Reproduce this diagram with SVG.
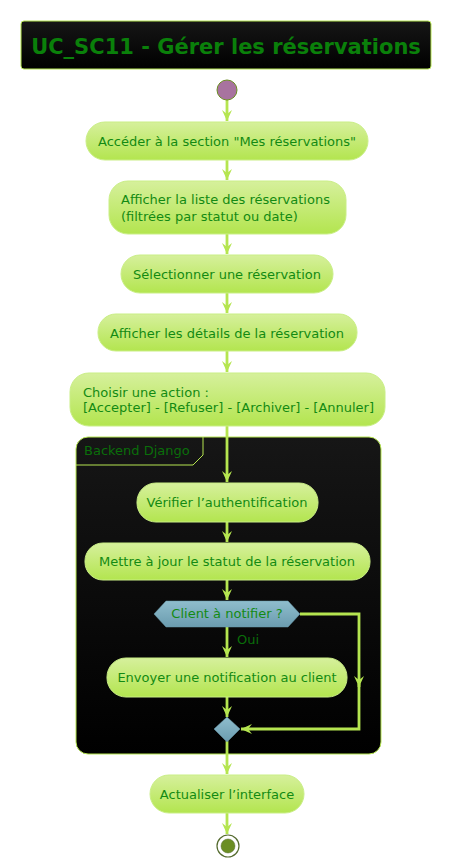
<svg xmlns="http://www.w3.org/2000/svg" width="454" height="867" viewBox="0 0 454 867">
<defs>
<linearGradient id="gNode" x1="0" y1="0" x2="0" y2="1"><stop offset="0" stop-color="#d6f09c"/><stop offset="1" stop-color="#b3e54f"/></linearGradient>
<linearGradient id="gDark" x1="0" y1="0" x2="0" y2="1"><stop offset="0" stop-color="#161616"/><stop offset="1" stop-color="#000000"/></linearGradient>
<linearGradient id="gDec" x1="0" y1="0" x2="0" y2="1"><stop offset="0" stop-color="#8fbdcd"/><stop offset="1" stop-color="#6b9caf"/></linearGradient>
<marker id="arr" viewBox="0 0 12 12" refX="11" refY="6" markerWidth="12" markerHeight="12" markerUnits="userSpaceOnUse" orient="auto">
<path d="M0,1 L11,6 L0,11 L4,6 Z" fill="#b5e550"/>
</marker>
<style>
.node{fill:url(#gNode);stroke:#c9ee85;stroke-width:1}
.t{font-family:"DejaVu Sans",Verdana,sans-serif;font-size:13px;fill:#138a13}
.c{text-anchor:middle}
.edge{fill:none;stroke:#b5e550;stroke-width:2.8}
</style>
</defs>

<g id="title">
<rect x="21" y="21" width="410" height="48" rx="3" fill="url(#gDark)" stroke="#b5e550" stroke-width="1"/>
<text x="226" y="54" text-anchor="middle" font-family="'DejaVu Sans',Verdana,sans-serif" font-size="21" font-weight="bold" fill="#0a800a">UC_SC11 - Gérer les réservations</text>
</g>

<g id="partition">
<rect x="76" y="437" width="305" height="317" rx="12" fill="url(#gDark)" stroke="#b5e550" stroke-width="1"/>
<path d="M76,465 L193,465 L203,455 L203,437" fill="none" stroke="#b5e550" stroke-width="1"/>
<text class="t" x="84" y="455" style="fill:#0a6e0a">Backend Django</text>
</g>

<g id="connectors">
<line class="edge" x1="227" y1="100" x2="227" y2="121" marker-end="url(#arr)"/>
<line class="edge" x1="227" y1="160" x2="227" y2="180" marker-end="url(#arr)"/>
<line class="edge" x1="227" y1="234" x2="227" y2="254" marker-end="url(#arr)"/>
<line class="edge" x1="227" y1="293" x2="227" y2="313" marker-end="url(#arr)"/>
<line class="edge" x1="227" y1="351" x2="227" y2="372" marker-end="url(#arr)"/>
<line class="edge" x1="227" y1="426" x2="227" y2="482" marker-end="url(#arr)"/>
<line class="edge" x1="227" y1="522" x2="227" y2="542" marker-end="url(#arr)"/>
<line class="edge" x1="227" y1="580" x2="227" y2="600" marker-end="url(#arr)"/>
<line class="edge" x1="227" y1="627" x2="227" y2="657" marker-end="url(#arr)"/>
<line class="edge" x1="227" y1="697" x2="227" y2="717" marker-end="url(#arr)"/>
<polyline class="edge" points="300,614 359,614 359,687" marker-end="url(#arr)"/>
<polyline class="edge" points="359,684 359,729 241,729" marker-end="url(#arr)"/>
<line class="edge" x1="227" y1="741" x2="227" y2="774" marker-end="url(#arr)"/>
<line class="edge" x1="227" y1="813" x2="227" y2="834" marker-end="url(#arr)"/>
<text class="t" x="237" y="644" style="fill:#0a6e0a">Oui</text>
</g>

<g id="start"><circle cx="227" cy="90" r="10" fill="#a8739f" stroke="#6b8e23" stroke-width="1"/></g>

<g id="n1"><rect class="node" x="86" y="122" width="282" height="38" rx="19"/><text class="t c" x="227" y="146">Accéder à la section "Mes réservations"</text></g>

<g id="n2"><rect class="node" x="109" y="181" width="237" height="53" rx="19"/><text class="t" x="121" y="204">Afficher la liste des réservations</text><text class="t" x="121" y="221">(filtrées par statut ou date)</text></g>

<g id="n3"><rect class="node" x="121" y="255" width="212" height="38" rx="19"/><text class="t c" x="227" y="279">Sélectionner une réservation</text></g>

<g id="n4"><rect class="node" x="98" y="314" width="259" height="37" rx="18"/><text class="t c" x="227" y="338">Afficher les détails de la réservation</text></g>

<g id="n5"><rect class="node" x="70" y="373" width="315" height="53" rx="19"/><text class="t" x="83" y="397">Choisir une action :</text><text class="t" x="83" y="412">[Accepter] - [Refuser] - [Archiver] - [Annuler]</text></g>

<g id="n6"><rect class="node" x="137" y="483" width="181" height="39" rx="19"/><text class="t c" x="227" y="507">Vérifier l’authentification</text></g>

<g id="n7"><rect class="node" x="85" y="543" width="285" height="37" rx="18"/><text class="t c" x="227" y="566">Mettre à jour le statut de la réservation</text></g>

<g id="decision"><polygon points="154,614 166,601 288,601 300,614 288,627 166,627" fill="url(#gDec)" stroke="#6b9caf" stroke-width="0.5"/><text class="t c" x="227" y="618">Client à notifier ?</text></g>

<g id="n8"><rect class="node" x="107" y="658" width="240" height="39" rx="19"/><text class="t c" x="227" y="682">Envoyer une notification au client</text></g>

<g id="merge"><polygon points="227,717 240,729 227,742 214,729" fill="url(#gDec)" stroke="#6b9caf" stroke-width="0.5"/></g>

<g id="n9"><rect class="node" x="150" y="775" width="154" height="38" rx="19"/><text class="t c" x="227" y="799">Actualiser l’interface</text></g>

<g id="end"><circle cx="228" cy="846" r="11" fill="#ffffff" stroke="#556b2f" stroke-width="1.2"/><circle cx="228" cy="846" r="7" fill="#6b8e23" stroke="#556b2f" stroke-width="0.5"/></g>
</svg>
